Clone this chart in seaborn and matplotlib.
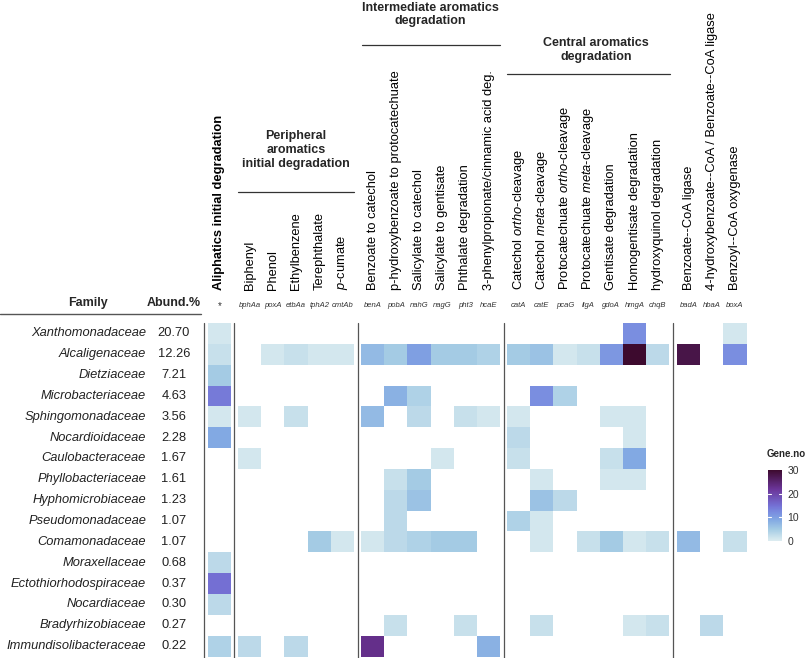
import numpy as np
import pandas as pd
import seaborn as sns
import matplotlib.pyplot as plt
import matplotlib.transforms as mtrans
from matplotlib.colors import LinearSegmentedColormap
from matplotlib.lines import Line2D

sns.set_style("white")
plt.rcParams['font.family'] = ['Liberation Sans', 'DejaVu Sans']
plt.rcParams['mathtext.fontset'] = 'custom'
plt.rcParams['mathtext.rm'] = 'Liberation Sans'
plt.rcParams['mathtext.it'] = 'Liberation Sans:italic'

n = np.nan

families = ["Xanthomonadaceae", "Alcaligenaceae", "Dietziaceae", "Microbacteriaceae",
            "Sphingomonadaceae", "Nocardioidaceae", "Caulobacteraceae", "Phyllobacteriaceae",
            "Hyphomicrobiaceae", "Pseudomonadaceae", "Comamonadaceae", "Moraxellaceae",
            "Ectothiorhodospiraceae", "Nocardiaceae", "Bradyrhizobiaceae", "Immundisolibacteraceae"]
abundance = [20.70, 12.26, 7.21, 4.63, 3.56, 2.28, 1.67, 1.61, 1.23, 1.07, 1.07,
             0.68, 0.37, 0.30, 0.27, 0.22]

# aliphatics
aliph_labels = ["Aliphatics initial degradation"]
aliph_genes = ["*"]
aliph_vals = [[1], [2], [5], [14], [1], [9], [n], [n], [n], [n], [n], [3], [15], [3], [n], [4]]

# peripheral aromatics
periph_labels = ["Biphenyl", "Phenol", "Ethylbenzene", "Terephthalate", r"$\it{p}$-cumate"]
periph_genes = ["bphAa", "poxA", "etbAa", "tphA2", "cmtAb"]
periph_vals = [
    [n, n, n, n, n],
    [n, 1, 2, 1, 1],
    [n, n, n, n, n],
    [n, n, n, n, n],
    [1, n, 2, n, n],
    [n, n, n, n, n],
    [1, n, n, n, n],
    [n, n, n, n, n],
    [n, n, n, n, n],
    [n, n, n, n, n],
    [n, n, n, 5, 1],
    [n, n, n, n, n],
    [n, n, n, n, n],
    [n, n, n, n, n],
    [n, n, n, n, n],
    [3, n, 3, n, n],
]

# intermediate aromatics
inter_labels = ["Benzoate to catechol", "p-hydroxybenzoate to protocatechuate",
                "Salicylate to catechol", "Salicylate to gentisate",
                "Phthalate degradation", "3-phenylpropionate/cinnamic acid deg."]
inter_genes = ["benA", "pobA", "nahG", "nagG", "pht3", "hcaE"]
inter_vals = [
    [n, n, n, n, n, n],
    [7, 5, 10, 5, 5, 4],
    [n, n, n, n, n, n],
    [n, 8, 4, n, n, n],
    [7, n, 3, n, 2, 1],
    [n, n, n, n, n, n],
    [n, n, n, 1, n, n],
    [n, 2, 5, n, n, n],
    [n, 3, 6, n, n, n],
    [n, 3, n, n, n, n],
    [1, 3, 4, 5, 5, n],
    [n, n, n, n, n, n],
    [n, n, n, n, n, n],
    [n, n, n, n, n, n],
    [n, 2, n, n, 2, n],
    [23, n, n, n, n, 8],
]

# central aromatics
central_labels = [r"Catechol $\it{ortho}$-cleavage", r"Catechol $\it{meta}$-cleavage",
                  r"Protocatechuate $\it{ortho}$-cleavage", r"Protocatechuate $\it{meta}$-cleavage",
                  "Gentisate degradation", "Homogentisate degradation", "hydroxyquinol degradation"]
central_genes = ["catA", "catE", "pcaG", "ligA", "gdoA", "hmgA", "chqB"]
central_vals = [
    [n, n, n, n, n, 12, n],
    [5, 6, 1, 2, 11, 30, 3],
    [n, n, n, n, n, n, n],
    [n, 12, 4, n, n, n, n],
    [1, n, n, n, 1, 1, n],
    [3, n, n, n, n, 1, n],
    [2, n, n, n, 2, 9, n],
    [n, 1, n, n, 1, 1, n],
    [n, 6, 3, n, n, n, n],
    [4, 1, n, n, n, n, n],
    [n, 1, n, 2, 5, 1, 2],
    [n, n, n, n, n, n, n],
    [n, n, n, n, n, n, n],
    [n, n, n, n, n, n, n],
    [n, 2, n, n, n, 1, 2],
    [n, n, n, n, n, n, n],
]

# anaerobic / CoA
coa_labels = ["Benzoate--CoA ligase", "4-hydroxybenzoate--CoA / Benzoate--CoA ligase",
              "Benzoyl--CoA oxygenase"]
coa_genes = ["badA", "hbaA", "boxA"]
coa_vals = [
    [n, n, 1],
    [28, n, 12],
    [n, n, n], [n, n, n], [n, n, n], [n, n, n], [n, n, n], [n, n, n], [n, n, n], [n, n, n],
    [7, n, 2],
    [n, n, n], [n, n, n], [n, n, n],
    [n, 3, n],
    [n, n, n],
]

cmap = LinearSegmentedColormap.from_list("geneno", [
    (0.0, "#dcebf0"), (0.033, "#d3e7ee"), (0.167, "#a3cbe4"), (0.3, "#82a8e3"),
    (0.4, "#7a8ee0"), (0.5, "#7470d4"), (0.73, "#6b3599"), (1.0, "#3d0a2e")])

W, H = 808, 658
fig = plt.figure(figsize=(W / 100, H / 100), dpi=100)


def rect(x0, y0, x1, y1):
    return [x0 / W, 1 - y1 / H, (x1 - x0) / W, (y1 - y0) / H]


top, bottom = 323, 656.5
cw = 23.2
groups = [
    (207.8, aliph_labels, aliph_genes, aliph_vals),
    (238.0, periph_labels, periph_genes, periph_vals),
    (361.0, inter_labels, inter_genes, inter_vals),
    (507.0, central_labels, central_genes, central_vals),
    (677.0, coa_labels, coa_genes, coa_vals),
]

cax = fig.add_axes(rect(768, 470, 782, 541))
axes = []
for k, (x0, labels, genes, vals) in enumerate(groups):
    ax = fig.add_axes(rect(x0, top, x0 + cw * len(labels), bottom))
    df = pd.DataFrame(vals, index=families, columns=labels, dtype=float)
    sns.heatmap(df, ax=ax, cmap=cmap, vmin=0, vmax=30, linewidths=0,
                cbar=(k == 3), cbar_ax=cax if k == 3 else None,
                cbar_kws={"ticks": [0, 10, 20, 30]},
                xticklabels=True, yticklabels=False)
    ax.xaxis.tick_top()
    ax.set_xticklabels(labels, rotation=90, fontsize=9.3, color="black")
    ax.tick_params(axis="x", length=0, pad=24)
    ax.set_xlabel("")
    ax.set_ylabel("")
    for j, g in enumerate(genes):
        if g == "*":
            ax.text(j + 0.5, -0.8, g, ha="center", va="center", fontsize=7, color="#333")
        else:
            ax.text(j + 0.5, -0.86, g, ha="center", va="center", fontsize=5.5,
                    style="italic", color="#333")
    axes.append(ax)

for lab in axes[0].get_xticklabels():
    lab.set_fontweight("bold")

# family / abundance table
ax0 = axes[0]
trans = mtrans.blended_transform_factory(fig.transFigure, ax0.transData)
for i, (fam, ab) in enumerate(zip(families, abundance)):
    ax0.text(146 / W, i + 0.5, fam, transform=trans, ha="right", va="center",
             style="italic", fontsize=9.3, color="#222")
    ax0.text(174 / W, i + 0.5, f"{ab:.2f}", transform=trans, ha="center", va="center",
             fontsize=9.3, color="#222")
fig.text(88 / W, 1 - 303 / H, "Family", ha="center", va="center", fontweight="bold", fontsize=9)
fig.text(174 / W, 1 - 303 / H, "Abund.%", ha="center", va="center", fontweight="bold", fontsize=9)
fig.add_artist(Line2D([0, 201 / W], [1 - 314 / H] * 2, color="#555", lw=1))

# separators
for x in [203.7, 234.5, 357.5, 503.5, 673.2]:
    fig.add_artist(Line2D([x / W] * 2, [1 - 323 / H, 0], color="#555", lw=0.9))

# group headers
fig.text(296 / W, 1 - 150 / H, "Peripheral\naromatics\ninitial degradation", ha="center",
         va="center", fontweight="bold", fontsize=9, linespacing=1.2)
fig.add_artist(Line2D([238 / W, 354 / W], [1 - 191.5 / H] * 2, color="#333", lw=0.9))
fig.text(430 / W, 1 - 14.5 / H, "Intermediate aromatics\ndegradation", ha="center",
         va="center", fontweight="bold", fontsize=9, linespacing=1.2)
fig.add_artist(Line2D([362 / W, 500 / W], [1 - 45 / H] * 2, color="#333", lw=0.9))
fig.text(596 / W, 1 - 50 / H, "Central aromatics\ndegradation", ha="center",
         va="center", fontweight="bold", fontsize=9, linespacing=1.2)
fig.add_artist(Line2D([507 / W, 670 / W], [1 - 74 / H] * 2, color="#333", lw=0.9))

# colorbar styling
cax.tick_params(length=0, labelsize=7.5, colors="#333", pad=4)
for sp in cax.spines.values():
    sp.set_visible(False)
cb = axes[3].collections[0].colorbar
cb.outline.set_visible(False)
yt = cax.get_yaxis_transform()
for v in [10, 20]:
    cax.plot([0, 0.2], [v, v], color="white", lw=0.8, transform=yt)
    cax.plot([0.8, 1], [v, v], color="white", lw=0.8, transform=yt)
fig.text(767 / W, 1 - 454 / H, "Gene.no", ha="left", va="center", fontweight="bold", fontsize=7)

fig.savefig("out.png", dpi=100)
